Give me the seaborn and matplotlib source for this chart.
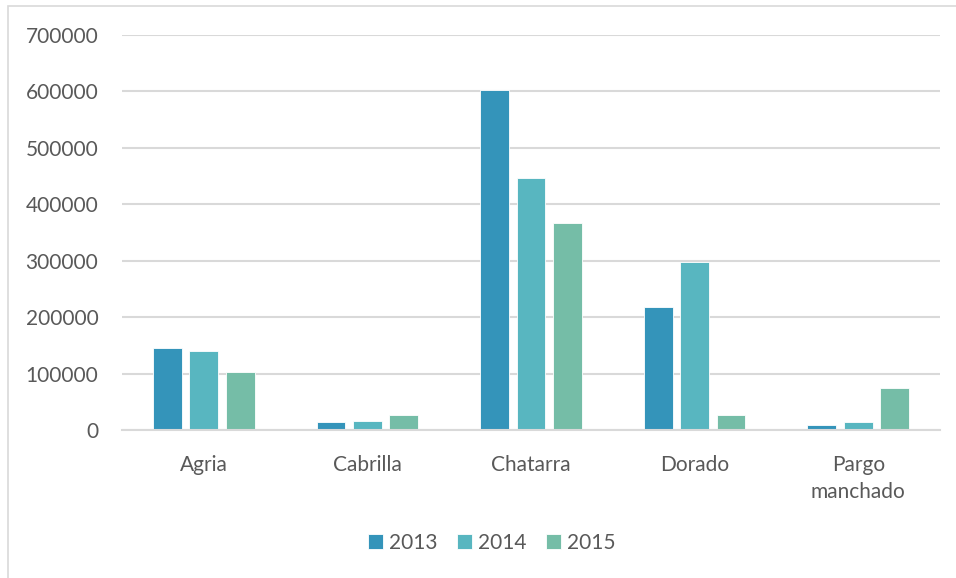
import numpy as np
import pandas as pd
import seaborn as sns
import matplotlib.pyplot as plt
from matplotlib.patches import Rectangle

species = ['Agria', 'Cabrilla', 'Chatarra', 'Dorado', 'Pargo\nmanchado']
years = ['2013', '2014', '2015']
v2013 = [145000, 14000, 602000, 218000, 9000]
v2014 = [140000, 16000, 447000, 298000, 15000]
v2015 = [103000, 26000, 367000, 26000, 74000]

colors = ['#3494BA', '#58B6C0', '#75BDA7']
text_color = '#595959'
grid_color = '#D9D9D9'

df = pd.DataFrame({
    'especie': species * 3,
    'anio': [y for y in years for _ in species],
    'valor': v2013 + v2014 + v2015,
})

sns.set_style('white')
plt.rcParams['font.family'] = ['Lato', 'DejaVu Sans']

fig = plt.figure(figsize=(9.56, 5.78), dpi=100)
ax = fig.add_axes([122 / 956, 1 - 430 / 578, (940 - 122) / 956, (430 - 35) / 578])

sns.barplot(data=df, x='especie', y='valor', hue='anio', palette=colors,
            saturation=1, width=0.667, gap=0.21, edgecolor='white', linewidth=0.6,
            ax=ax, legend=True)

ax.set_ylim(0, 700000)
ax.set_xlim(-0.5, len(species) - 0.5)
ax.set_yticks(np.arange(0, 700001, 100000))
ax.set_yticklabels([str(int(t)) for t in np.arange(0, 700001, 100000)])
ax.yaxis.grid(True, color=grid_color, linewidth=1.5)
ax.set_axisbelow(True)
for s in ['top', 'right', 'left']:
    ax.spines[s].set_visible(False)
ax.spines['bottom'].set_color(grid_color)
ax.spines['bottom'].set_linewidth(1.5)
ax.tick_params(axis='both', length=0, labelsize=15, colors=text_color)
ax.tick_params(axis='y', pad=17)
ax.tick_params(axis='x', pad=18)
for lbl in ax.get_xticklabels():
    lbl.set_linespacing(1.45)
ax.set_xlabel('')
ax.set_ylabel('')

handles, labels = ax.get_legend_handles_labels()
ax.get_legend().remove()
fig.legend(handles, labels, loc='center', bbox_to_anchor=(492 / 956, 1 - 543 / 578),
           ncol=3, frameon=False, fontsize=15, handlelength=0.7, handleheight=0.7,
           handletextpad=0.3, columnspacing=0.95, labelcolor=text_color)

# outer chart frame
fig.patches.append(Rectangle((8 / 956, -0.01), 1.2, 1 - 6 / 578 + 0.01,
                             transform=fig.transFigure, fill=False,
                             edgecolor='#D9D9D9', linewidth=1.2))

fig.savefig('out.png', dpi=100)
